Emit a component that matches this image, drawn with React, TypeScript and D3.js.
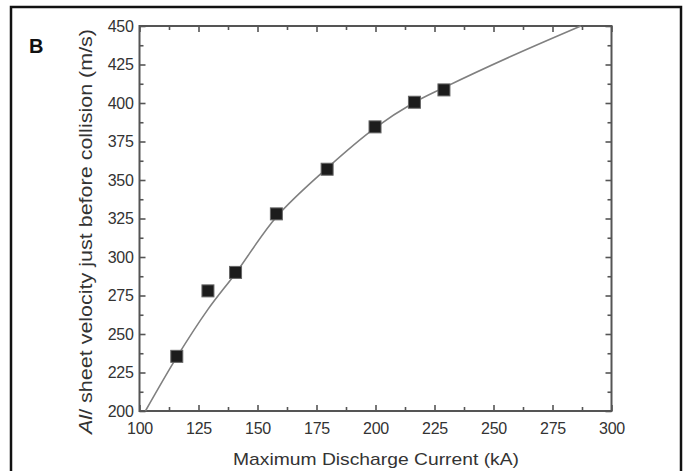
import React, { useRef, useEffect } from "react";
import { select, scaleLinear, line, axisBottom, axisLeft, axisTop, axisRight, range, curveCatmullRom } from "d3";

// measured points (current kA, velocity m/s)
const currentKA = [115.8, 129, 140.7, 158, 179.5, 199.8, 216.5, 229];
const velocity = [235.5, 278, 290, 328, 357, 384.5, 400.5, 408.5];

// fitted curve
const fitCurrent = [102.5, 115.8, 129, 141, 158, 179, 200, 216, 229, 257, 287];
const fitVelocity = [200, 235, 266, 290, 326, 357, 384, 400, 410, 430, 450];

const xMajor = [100, 125, 150, 175, 200, 225, 250, 275, 300];
const yMajor = [200, 225, 250, 275, 300, 325, 350, 375, 400, 425, 450];

const W = 684;
const H = 471;
const margin = { left: 139.5, right: 72.5, top: 26, bottom: 60 };
const font = "Liberation Sans, Arial, sans-serif";

function App() {
  const gRef = useRef();

  const width = W - margin.left - margin.right;
  const height = H - margin.top - margin.bottom;

  const xScale = scaleLinear().domain([100, 300]).range([0, width]);
  const yScale = scaleLinear().domain([200, 450]).range([height, 0]);

  useEffect(() => {
    const g = select(gRef.current);
    const xMinor = range(112.5, 300, 25);
    const yMinor = range(212.5, 450, 25);

    const styleAxis = (sel) => {
      sel.select(".domain").remove();
      sel.selectAll("line").attr("stroke", "#555").attr("stroke-width", 1.6);
      sel.selectAll("text")
        .attr("fill", "#333")
        .style("font-family", font)
        .style("font-size", "16px")
        .style("letter-spacing", "-0.3px");
    };

    // major ticks, inward
    g.select(".x-axis")
      .attr("transform", `translate(0, ${height})`)
      .call(axisBottom(xScale).tickValues(xMajor).tickSize(-6).tickPadding(12))
      .call(styleAxis);
    g.select(".x-minor")
      .attr("transform", `translate(0, ${height})`)
      .call(axisBottom(xScale).tickValues(xMinor).tickSize(-4).tickFormat(() => ""))
      .call(styleAxis);
    g.select(".x-top")
      .call(axisTop(xScale).tickValues(xMajor).tickSize(-6).tickFormat(() => ""))
      .call(styleAxis);
    g.select(".x-top-minor")
      .call(axisTop(xScale).tickValues(xMinor).tickSize(-4).tickFormat(() => ""))
      .call(styleAxis);

    g.select(".y-axis")
      .call(axisLeft(yScale).tickValues(yMajor).tickSize(-6).tickPadding(6))
      .call(styleAxis);
    g.select(".y-minor")
      .call(axisLeft(yScale).tickValues(yMinor).tickSize(-4).tickFormat(() => ""))
      .call(styleAxis);
    g.select(".y-right")
      .attr("transform", `translate(${width}, 0)`)
      .call(axisRight(yScale).tickValues(yMajor).tickSize(-6).tickFormat(() => ""))
      .call(styleAxis);
    g.select(".y-right-minor")
      .attr("transform", `translate(${width}, 0)`)
      .call(axisRight(yScale).tickValues(yMinor).tickSize(-4).tickFormat(() => ""))
      .call(styleAxis);

    const fitLine = line()
      .x((d, i) => xScale(fitCurrent[i]))
      .y((d) => yScale(d))
      .curve(curveCatmullRom);

    g.select(".fit")
      .selectAll("path")
      .data([fitVelocity])
      .join("path")
      .attr("d", fitLine)
      .attr("fill", "none")
      .attr("stroke", "#808080")
      .attr("stroke-width", 1.6);

    g.select(".points")
      .selectAll("rect")
      .data(velocity)
      .join("rect")
      .attr("x", (d, i) => xScale(currentKA[i]) - 6)
      .attr("y", (d) => yScale(d) - 6)
      .attr("width", 12)
      .attr("height", 12)
      .attr("fill", "#1c1c1c")
      .attr("stroke", "#666")
      .attr("stroke-width", 1);
  }, []);

  return (
    <svg width={W} height={H} style={{ position: "absolute", left: 0, top: 0, background: "#fff" }}>
      <rect x={11} y={7} width={670} height={480} fill="none" stroke="#111" strokeWidth={2.5} />
      <text x={29} y={53} fontFamily={font} fontWeight="bold" fontSize={20} fill="#111">
        B
      </text>
      <g ref={gRef} transform={`translate(${margin.left}, ${margin.top})`}>
        <rect x={0} y={0} width={width} height={height} fill="none" stroke="#555" strokeWidth={2} />
        <g className="fit" />
        <g className="points" />
        <g className="x-axis" />
        <g className="x-minor" />
        <g className="x-top" />
        <g className="x-top-minor" />
        <g className="y-axis" />
        <g className="y-minor" />
        <g className="y-right" />
        <g className="y-right-minor" />
      </g>
      <text
        x={376}
        y={465}
        textAnchor="middle"
        fontFamily={font}
        fontSize={17}
        textLength={286}
        lengthAdjust="spacingAndGlyphs"
        fill="#333"
      >
        Maximum Discharge Current (kA)
      </text>
      <text
        transform="translate(92, 231.5) rotate(-90)"
        textAnchor="middle"
        fontFamily={font}
        fontSize={19}
        textLength={405}
        lengthAdjust="spacingAndGlyphs"
        fill="#333"
      >
        <tspan fontStyle="italic">Al</tspan>/ sheet velocity just before collision (m/s)
      </text>
    </svg>
  );
}

export default App;
